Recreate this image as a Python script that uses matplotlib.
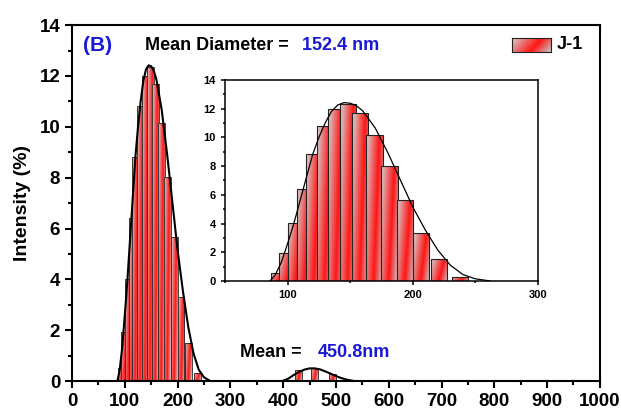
import numpy as np
import matplotlib.pyplot as plt
from matplotlib.colors import LinearSegmentedColormap
from matplotlib.ticker import MultipleLocator

plt.rcParams['font.family'] = ['Liberation Sans', 'DejaVu Sans']
plt.rcParams['font.weight'] = 'bold'

# size distribution (bar centres in nm, intensity in %)
size_nm = [93.5, 100, 106.75, 113.75, 121, 130, 138.5, 148.5, 158, 169.5, 181.5,
           193.5, 206.5, 221, 237.5, 400, 429, 460, 493, 528]
intensity = [0.53, 1.93, 4.02, 6.41, 8.82, 10.82, 12.0, 12.35, 11.68, 10.15, 8.03,
             5.67, 3.32, 1.51, 0.30, 0.06, 0.42, 0.50, 0.26, 0.04]

# fitted curves
fit1_x = [86, 90, 95, 100, 105, 110, 115, 120, 125, 130, 135, 140, 145, 150, 155,
          160, 170, 180, 190, 200, 210, 220, 230, 240, 250, 262]
fit1_y = [0, 0.4, 1.3, 2.6, 4.0, 5.6, 7.2, 8.8, 10.0, 11.0, 11.8, 12.25, 12.42, 12.38,
          12.2, 11.85, 10.65, 8.95, 7.05, 5.15, 3.55, 2.15, 1.1, 0.45, 0.15, 0]
fit2_x = [398, 410, 420, 430, 440, 450, 460, 470, 480, 490, 500, 510, 520, 535]
fit2_y = [0, 0.1, 0.24, 0.36, 0.45, 0.5, 0.5, 0.46, 0.38, 0.29, 0.2, 0.12, 0.06, 0]

bar_width = 13
blue = '#1a1ad6'

grad_cmap = LinearSegmentedColormap.from_list(
    'grayred', [(0, '#d4d4d4'), (0.6, '#ff1414'), (1, '#c8c8c8')])
u, v = np.meshgrid(np.linspace(0, 1, 40), np.linspace(0, 1, 40))
grad = (u - 0.35 * v + 0.35) / 1.35


def gradient_bars(ax, x, h, lw):
    bars = ax.bar(x, h, width=bar_width, facecolor='none',
                  edgecolor='#222222', linewidth=lw)
    for i, b in enumerate(bars):
        if b.get_height() <= 0:
            continue
        z = 2 + i * 0.01
        x0 = b.get_x()
        im = ax.imshow(grad, cmap=grad_cmap, vmin=0, vmax=1, origin='lower',
                       extent=[x0, x0 + b.get_width(), 0, b.get_height()],
                       aspect='auto', interpolation='bilinear', zorder=z)
        im.set_clip_path(b)
        b.set_zorder(z + 0.005)


def style_axes(ax, lw, size, major, minor):
    for s in ax.spines.values():
        s.set_linewidth(lw)
    ax.tick_params(which='major', direction='out', length=major, width=lw,
                   labelsize=size, top=False, right=False)
    ax.tick_params(which='minor', direction='out', length=minor, width=lw,
                   top=False, right=False)
    for lab in ax.get_xticklabels() + ax.get_yticklabels():
        lab.set_fontweight('bold')


fig = plt.figure(figsize=(6.21, 4.12), dpi=100)

# main plot
ax = fig.add_axes([0.116, 0.075, 0.850, 0.864])
gradient_bars(ax, size_nm, intensity, 0.6)
ax.plot(fit1_x, fit1_y, color='black', lw=1.5, zorder=5)
ax.plot(fit2_x, fit2_y, color='black', lw=1.5, zorder=5)
ax.set_xlim(0, 1000)
ax.set_ylim(0, 14)
ax.xaxis.set_major_locator(MultipleLocator(100))
ax.xaxis.set_minor_locator(MultipleLocator(50))
ax.yaxis.set_major_locator(MultipleLocator(2))
ax.yaxis.set_minor_locator(MultipleLocator(1))
style_axes(ax, 1.5, 13.5, 5, 3)
ax.set_ylabel('Intensity (%)', fontsize=14, fontweight='bold', labelpad=6)

ax.text(21, 13.2, '(B)', color=blue, fontsize=15, fontweight='bold', va='center')
ax.text(138, 13.2, 'Mean Diameter = ', color='black', fontsize=13,
        fontweight='bold', va='center')
ax.text(435, 13.2, '152.4 nm', color=blue, fontsize=13, fontweight='bold', va='center')
ax.text(318, 1.14, 'Mean = ', color='black', fontsize=13, fontweight='bold', va='center')
ax.text(466, 1.14, '450.8nm', color=blue, fontsize=13, fontweight='bold', va='center')

# legend drawn by hand so the swatch can carry the gradient
lax = fig.add_axes([0.8245, 0.8738, 0.0628, 0.034])
lax.imshow(grad, cmap=grad_cmap, vmin=0, vmax=1, origin='lower',
           aspect='auto', interpolation='bilinear')
lax.set_xticks([])
lax.set_yticks([])
for s in lax.spines.values():
    s.set_linewidth(0.8)
    s.set_color('#222222')
fig.text(0.897, 0.891, 'J-1', fontsize=13, fontweight='bold', va='center')

# inset
ins = fig.add_axes([0.3623, 0.318, 0.504, 0.488])
gradient_bars(ins, size_nm, intensity, 0.8)
ins.plot(fit1_x, fit1_y, color='black', lw=0.9, zorder=5)
ins.set_xlim(50, 300)
ins.set_ylim(0, 14)
ins.xaxis.set_major_locator(MultipleLocator(100))
ins.xaxis.set_minor_locator(MultipleLocator(50))
ins.yaxis.set_major_locator(MultipleLocator(2))
ins.yaxis.set_minor_locator(MultipleLocator(1))
style_axes(ins, 1.1, 8, 3, 1.5)

fig.savefig('out.png', dpi=100)
